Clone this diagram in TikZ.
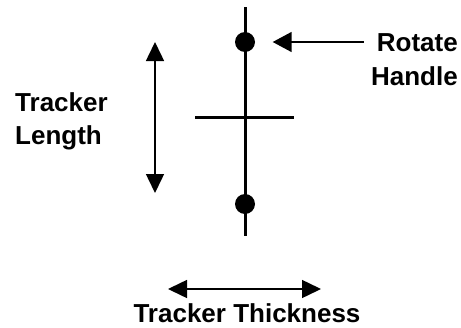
\documentclass[tikz,border=0pt]{standalone}
\usepackage{fontspec}
\setmainfont{Liberation Sans}
\usetikzlibrary{arrows.meta}
\tikzset{
  lbl/.style={inner sep=0pt, font=\fontsize{26}{33}\selectfont\bfseries},
  thick line/.style={line width=3pt},
  dimarrow/.style={line width=1.5pt, {Triangle[length=19pt,width=18pt]}-{Triangle[length=19pt,width=18pt]}},
  ptr/.style={line width=1.5pt, -{Triangle[length=19pt,width=20pt]}},
  handle/.style={circle, fill=black, minimum size=20pt, inner sep=0pt}
}
\begin{document}
\begin{tikzpicture}[x=1pt,y=-1pt]
\useasboundingbox (0,0) rectangle (461,327);
% tracker
\coordinate (vtop) at (245,7);
\coordinate (vbot) at (245,236);
\coordinate (hl) at (195,117);
\coordinate (hr) at (294,117);
\draw[thick line] (vtop) -- (vbot);
\draw[thick line] (hl) -- (hr);
\node[handle] (h1) at (245,42) {};
\node[handle] (h2) at (245,204) {};
% length arrow
\coordinate (lt) at (155,42);
\coordinate (lb) at (155,193);
\draw[dimarrow] (lt) -- (lb);
% thickness arrow
\coordinate (tl) at (168,289);
\coordinate (tr) at (321,289);
\draw[dimarrow] (tl) -- (tr);
% labels
\node[lbl, anchor=base east] (rot) at (458,51) {Rotate};
\node[lbl, anchor=base east] (hand) at (458,85) {Handle};
\node[lbl, anchor=base west] (trk) at (15,111) {Tracker};
\node[lbl, anchor=base west] (len) at (15,144) {Length};
\node[lbl, anchor=base] (thk) at (247,322) {Tracker Thickness};
% pointer
\coordinate (ptip) at (272.7,42);
\draw[ptr] (rot.west |- ptip) ++(-13,0) coordinate (pstart) -- (ptip);
\end{tikzpicture}
\end{document}
